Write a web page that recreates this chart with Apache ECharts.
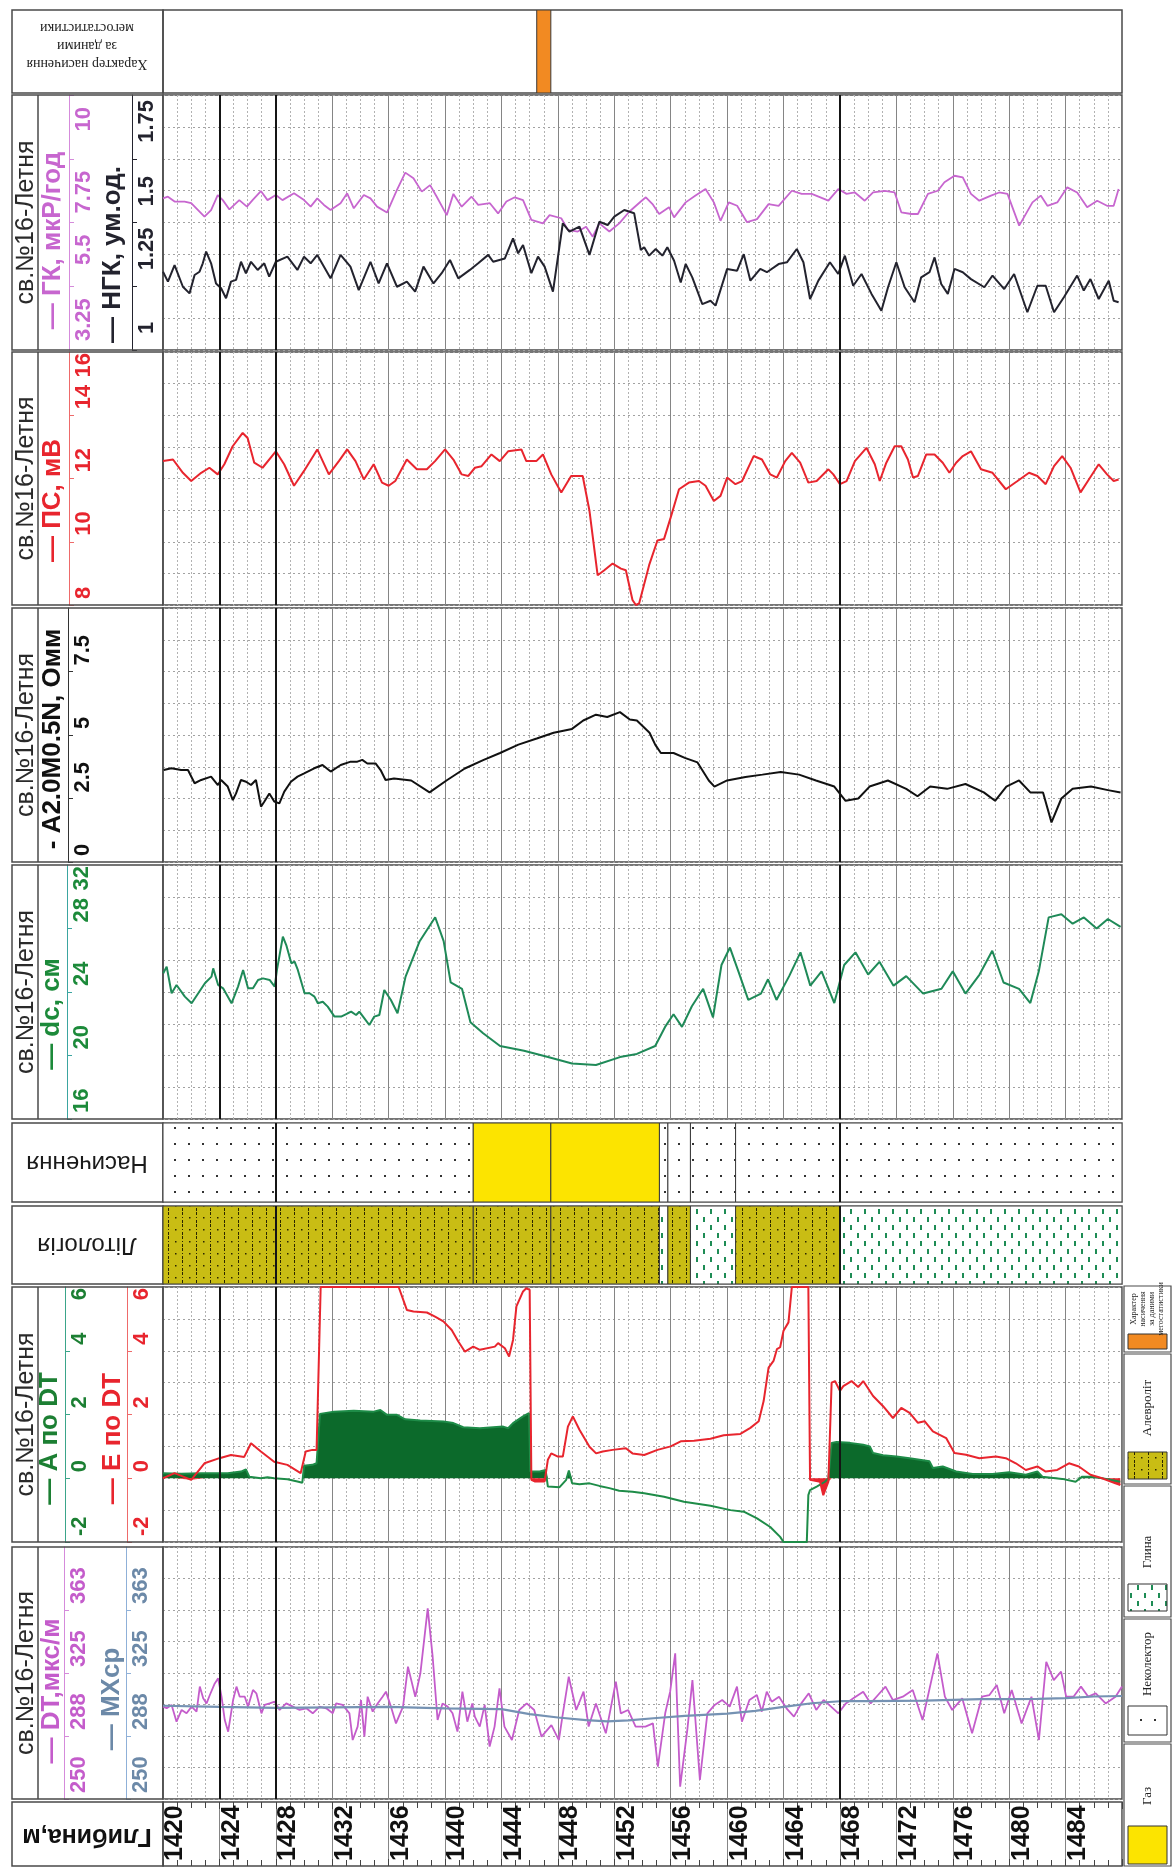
<!DOCTYPE html>
<html>
<head>
<meta charset="utf-8">
<script src="https://cdn.jsdelivr.net/npm/echarts@6/dist/echarts.min.js"></script>
<style>
  html, body { margin: 0; padding: 0; background: #fff; }
  #chart { width: 1172px; height: 1868px; }
</style>
</head>
<body>
<div id="chart"></div>
<script>
// ---------------- well log data, well св.№16-Летня ----------------
const DEPTH_MIN = 1420, DEPTH_MAX = 1488, DEPTH_STEP = 4;
const darkDepthLines = [1424, 1428, 1468];
const zoneDepthLines = [1428, 1468];

// ГК, мкР/год
const gk = [[1420.0,6.35],[1420.35,6.41],[1420.82,6.24],[1421.53,6.24],[1422.0,6.18],[1422.94,5.71],[1423.41,5.94],[1423.88,6.47],[1424.24,6.29],[1424.71,5.96],[1425.41,6.29],[1425.95,6.06],[1426.35,6.29],[1426.94,6.61],[1427.41,6.29],[1428.0,6.47],[1428.47,6.29],[1429.29,6.53],[1430.0,6.29],[1430.47,6.06],[1430.94,6.35],[1431.41,6.12],[1431.88,5.94],[1432.59,6.18],[1433.06,6.53],[1433.53,6.0],[1434.24,6.47],[1434.71,6.35],[1435.18,6.06],[1435.88,5.85],[1436.59,6.65],[1437.18,7.26],[1437.76,7.06],[1438.35,6.59],[1438.94,6.82],[1439.41,6.41],[1440.12,5.76],[1440.59,6.51],[1441.18,6.06],[1441.88,6.41],[1442.35,6.12],[1443.18,6.18],[1443.76,5.82],[1444.35,6.24],[1444.94,6.39],[1445.53,6.29],[1446.12,5.59],[1446.94,5.47],[1447.41,5.76],[1448.24,5.65],[1448.71,5.24],[1449.41,5.18],[1450.0,5.35],[1450.47,5.0],[1450.94,5.47],[1451.65,5.18],[1452.35,5.47],[1453.06,5.88],[1453.88,6.24],[1454.24,6.39],[1454.71,6.15],[1455.18,5.80],[1455.88,6.04],[1456.24,5.68],[1457.06,6.21],[1457.76,6.45],[1458.47,6.68],[1459.06,6.21],[1459.53,5.56],[1460.12,6.21],[1460.71,6.09],[1461.41,5.51],[1462.12,5.62],[1462.94,6.15],[1463.65,6.09],[1464.59,6.62],[1465.29,6.51],[1466.0,6.51],[1467.18,6.27],[1467.88,6.68],[1468.47,6.51],[1469.06,6.56],[1469.76,6.27],[1470.35,6.56],[1471.18,6.62],[1471.88,6.56],[1472.35,5.86],[1473.06,5.80],[1473.53,5.80],[1474.24,6.51],[1474.94,6.62],[1475.41,6.92],[1476.12,7.15],[1476.71,7.09],[1477.29,6.51],[1477.88,6.27],[1478.71,6.45],[1479.29,6.56],[1479.88,6.51],[1480.71,5.39],[1481.65,6.21],[1482.24,6.45],[1482.71,6.09],[1483.41,6.21],[1484.12,6.74],[1484.82,6.56],[1485.53,6.04],[1486.24,6.27],[1486.94,6.09],[1487.41,6.09],[1487.76,6.68]];

// НГК, ум.од.
const ngk = [[1420.0,1.307],[1420.35,1.268],[1420.82,1.333],[1421.41,1.248],[1421.88,1.222],[1422.24,1.294],[1422.59,1.307],[1422.82,1.340],[1423.06,1.386],[1423.41,1.340],[1423.76,1.261],[1424.12,1.242],[1424.47,1.203],[1424.82,1.268],[1425.18,1.275],[1425.53,1.346],[1425.88,1.301],[1426.24,1.346],[1426.71,1.314],[1427.18,1.340],[1427.53,1.288],[1428.0,1.346],[1428.82,1.366],[1429.53,1.314],[1430.0,1.366],[1430.47,1.340],[1430.94,1.373],[1431.88,1.281],[1432.59,1.373],[1433.29,1.327],[1433.88,1.235],[1434.71,1.346],[1435.29,1.261],[1435.88,1.340],[1436.59,1.248],[1437.29,1.268],[1437.88,1.229],[1438.47,1.327],[1439.18,1.261],[1439.76,1.301],[1440.35,1.353],[1440.94,1.281],[1441.76,1.314],[1442.35,1.340],[1443.06,1.373],[1443.41,1.346],[1444.24,1.359],[1444.82,1.438],[1445.18,1.379],[1445.53,1.412],[1446.12,1.301],[1446.59,1.366],[1447.06,1.327],[1447.65,1.229],[1448.35,1.497],[1448.82,1.464],[1449.53,1.484],[1450.24,1.373],[1450.94,1.503],[1451.53,1.490],[1452.0,1.523],[1452.71,1.549],[1453.41,1.536],[1453.88,1.392],[1454.12,1.403],[1454.47,1.370],[1454.94,1.396],[1455.41,1.370],[1455.76,1.403],[1456.24,1.350],[1456.71,1.265],[1457.06,1.337],[1457.53,1.285],[1458.24,1.180],[1458.82,1.193],[1459.18,1.174],[1460.0,1.318],[1460.71,1.311],[1461.18,1.376],[1461.65,1.272],[1462.35,1.318],[1462.82,1.305],[1463.65,1.337],[1464.24,1.344],[1464.94,1.396],[1465.41,1.344],[1465.88,1.200],[1466.47,1.272],[1467.29,1.344],[1467.88,1.298],[1468.35,1.370],[1468.94,1.252],[1469.53,1.298],[1470.24,1.220],[1470.94,1.154],[1471.41,1.246],[1472.0,1.344],[1472.59,1.246],[1473.29,1.187],[1473.76,1.285],[1474.35,1.305],[1474.71,1.363],[1475.18,1.259],[1475.65,1.220],[1476.12,1.318],[1476.71,1.305],[1477.29,1.278],[1478.24,1.246],[1478.82,1.292],[1479.65,1.239],[1480.35,1.298],[1481.29,1.148],[1482.0,1.252],[1482.59,1.252],[1483.18,1.148],[1483.88,1.207],[1484.82,1.292],[1485.29,1.233],[1485.76,1.278],[1486.35,1.200],[1487.06,1.272],[1487.41,1.193],[1487.76,1.187]];

// ПС, мВ
const ps = [[1420.0,12.55],[1420.71,12.60],[1421.41,12.18],[1422.0,11.92],[1422.71,12.18],[1423.29,12.34],[1423.88,12.13],[1424.35,12.45],[1424.94,13.02],[1425.65,13.44],[1426.0,13.28],[1426.47,12.50],[1427.06,12.34],[1428.0,12.86],[1428.59,12.45],[1429.29,11.77],[1430.0,12.24],[1430.94,12.92],[1431.76,12.13],[1432.47,12.55],[1433.06,12.92],[1433.65,12.55],[1434.24,11.97],[1434.94,12.45],[1435.53,11.87],[1436.0,11.77],[1436.47,11.92],[1437.29,12.60],[1438.0,12.29],[1438.71,12.29],[1439.29,12.55],[1440.0,12.92],[1440.59,12.60],[1441.18,12.13],[1441.65,12.08],[1442.12,12.34],[1442.59,12.39],[1443.29,12.76],[1443.88,12.55],[1444.47,12.86],[1445.41,12.92],[1445.76,12.55],[1446.47,12.55],[1446.94,12.76],[1447.53,12.13],[1448.24,11.56],[1448.94,12.08],[1449.76,12.08],[1450.24,10.98],[1450.82,8.94],[1451.29,9.10],[1451.88,9.31],[1452.47,9.15],[1452.82,9.10],[1453.29,8.16],[1453.53,8.0],[1453.76,8.05],[1454.47,9.26],[1455.06,10.04],[1455.53,10.09],[1456.0,10.77],[1456.59,11.66],[1457.29,11.87],[1458.0,11.92],[1458.47,11.77],[1459.06,11.29],[1459.53,11.45],[1460.0,12.03],[1460.59,11.82],[1461.06,11.92],[1461.88,12.71],[1462.47,12.60],[1463.06,12.13],[1463.53,12.03],[1464.12,12.55],[1464.59,12.81],[1465.18,12.50],[1465.76,11.87],[1466.35,11.92],[1467.18,12.29],[1467.53,12.13],[1468.0,11.82],[1468.47,11.92],[1469.06,12.55],[1469.88,12.97],[1470.47,12.45],[1470.82,11.92],[1471.29,12.50],[1471.88,13.02],[1472.35,13.02],[1472.82,12.60],[1473.18,12.03],[1473.53,12.08],[1474.12,12.76],[1474.71,12.76],[1475.29,12.50],[1475.76,12.18],[1476.24,12.50],[1476.71,12.71],[1477.29,12.86],[1478.0,12.29],[1478.82,12.18],[1479.76,11.66],[1480.59,11.92],[1481.41,12.18],[1482.0,12.08],[1482.59,11.82],[1483.18,12.39],[1483.76,12.71],[1484.35,12.34],[1485.06,11.56],[1485.65,11.97],[1486.35,12.45],[1486.94,12.13],[1487.41,11.92],[1487.76,11.97]];

// A2.0M0.5N, Омм
const res = [[1420.05,3.62],[1420.59,3.69],[1421.29,3.62],[1421.77,3.62],[1422.24,3.10],[1422.71,3.23],[1423.41,3.36],[1423.89,3.03],[1424.12,3.23],[1424.59,2.97],[1424.95,2.44],[1425.18,2.70],[1425.53,3.23],[1425.89,3.16],[1426.24,3.03],[1426.59,3.23],[1426.95,2.18],[1427.19,2.38],[1427.54,2.70],[1427.89,2.38],[1428.25,2.31],[1428.60,2.77],[1429.07,3.16],[1429.54,3.36],[1430.01,3.49],[1430.72,3.69],[1431.31,3.82],[1431.89,3.56],[1432.60,3.82],[1433.31,3.95],[1433.78,3.95],[1434.13,4.02],[1434.49,3.88],[1435.07,3.88],[1435.43,3.62],[1435.78,3.23],[1436.38,3.29],[1437.6,3.21],[1438.9,2.74],[1440.1,3.21],[1441.4,3.68],[1442.7,4.01],[1443.9,4.29],[1445.2,4.62],[1446.5,4.86],[1447.7,5.09],[1449.0,5.24],[1449.8,5.57],[1450.7,5.80],[1451.5,5.71],[1452.4,5.90],[1453.1,5.61],[1453.6,5.57],[1454.5,5.09],[1454.9,4.62],[1455.3,4.29],[1456.2,4.29],[1457.0,4.10],[1457.9,3.92],[1458.7,3.21],[1459.1,2.97],[1460.0,3.21],[1461.3,3.35],[1462.5,3.44],[1463.8,3.54],[1465.1,3.44],[1466.3,3.21],[1467.6,2.97],[1468.4,2.41],[1469.3,2.50],[1470.1,2.97],[1471.4,3.21],[1472.7,2.88],[1473.5,2.59],[1474.4,2.97],[1475.6,2.88],[1476.9,3.07],[1478.2,2.74],[1479.0,2.41],[1479.8,2.97],[1480.7,3.21],[1481.5,2.74],[1482.4,2.74],[1483.0,1.56],[1483.7,2.50],[1484.5,2.88],[1485.8,2.97],[1487.0,2.83],[1487.9,2.74]];

// dc, см
const dc = [[1420.02,25.18],[1420.26,25.60],[1420.61,23.92],[1420.96,24.44],[1421.55,23.71],[1422.03,23.29],[1422.50,23.92],[1422.97,24.55],[1423.44,24.97],[1423.56,25.49],[1423.91,24.44],[1424.26,24.23],[1424.86,23.29],[1425.32,24.34],[1425.68,25.39],[1426.03,24.23],[1426.38,24.23],[1426.74,24.76],[1427.09,24.86],[1427.56,24.76],[1427.92,24.34],[1428.08,25.39],[1428.50,27.49],[1428.74,26.96],[1429.10,25.81],[1429.33,25.91],[1429.56,25.39],[1430.04,23.92],[1430.39,23.92],[1430.74,23.71],[1430.98,23.29],[1431.33,23.39],[1431.68,23.08],[1432.16,22.45],[1432.63,22.45],[1433.10,22.66],[1433.34,22.76],[1433.69,22.55],[1433.92,22.76],[1434.28,22.34],[1434.63,21.92],[1434.98,22.45],[1435.34,22.55],[1435.69,24.13],[1436.16,23.50],[1436.63,22.66],[1437.2,24.97],[1438.2,27.2],[1439.3,28.71],[1439.9,27.2],[1440.4,24.6],[1441.2,24.2],[1441.8,22.1],[1442.7,21.4],[1443.9,20.6],[1445.6,20.3],[1447.3,19.9],[1449.0,19.5],[1450.7,19.4],[1452.4,19.9],[1453.6,20.1],[1454.9,20.6],[1455.6,21.8],[1456.2,22.6],[1456.8,21.8],[1457.5,23.1],[1458.3,24.2],[1459.0,22.4],[1459.6,25.7],[1460.2,26.8],[1460.8,25.3],[1461.5,23.5],[1462.4,23.9],[1462.9,24.8],[1463.5,23.5],[1464.4,25.0],[1465.2,26.5],[1465.9,24.4],[1466.7,25.3],[1467.6,23.3],[1468.3,25.7],[1469.1,26.5],[1470.0,25.1],[1470.8,25.9],[1471.8,24.4],[1472.7,25.0],[1473.9,23.9],[1475.2,24.2],[1476.0,25.3],[1476.9,23.9],[1477.9,25.1],[1478.8,26.6],[1479.6,24.6],[1480.7,24.2],[1481.5,23.3],[1482.1,25.3],[1482.8,28.7],[1483.7,28.9],[1484.5,28.3],[1485.3,28.7],[1486.2,28.0],[1487.0,28.6],[1487.9,28.1]];

// A по DT
const aDt = [[1420.0,0.16],[1421.29,0.14],[1422.71,0.16],[1424.59,0.16],[1425.53,0.21],[1425.88,0.28],[1426.12,0.05],[1426.94,0.0],[1427.41,0.03],[1427.88,0.0],[1428.82,-0.03],[1429.53,-0.10],[1429.88,-0.14],[1430.0,0.39],[1430.59,0.42],[1430.89,0.47],[1431.13,2.02],[1432.12,2.09],[1433.53,2.12],[1434.94,2.09],[1435.41,2.14],[1435.88,1.99],[1436.59,1.99],[1437.18,1.85],[1438.24,1.81],[1439.88,1.78],[1440.59,1.73],[1441.29,1.60],[1442.47,1.57],[1443.41,1.60],[1444.12,1.62],[1444.47,1.57],[1444.82,1.73],[1445.53,1.94],[1445.95,2.04],[1446.05,0.21],[1446.71,0.21],[1447.13,0.26],[1447.29,-0.26],[1448.12,-0.28],[1448.59,-0.05],[1448.78,0.24],[1449.01,-0.16],[1449.53,-0.19],[1450.24,-0.16],[1450.94,-0.24],[1451.65,-0.31],[1452.35,-0.39],[1453.29,-0.42],[1454.12,-0.47],[1455.53,-0.58],[1456.94,-0.74],[1458.82,-0.86],[1460.24,-1.0],[1461.18,-1.05],[1462.12,-1.26],[1463.06,-1.53],[1463.76,-1.84],[1464.0,-2.0],[1465.65,-2.0],[1465.76,-0.53],[1465.88,-0.37],[1466.35,-0.26],[1466.94,-0.11],[1467.18,0.0],[1467.41,1.11],[1467.76,1.14],[1468.71,1.11],[1469.65,1.05],[1470.12,1.0],[1470.35,0.79],[1471.06,0.72],[1472.0,0.68],[1472.94,0.63],[1474.35,0.53],[1474.59,0.32],[1475.29,0.37],[1476.24,0.21],[1477.41,0.13],[1478.82,0.13],[1480.0,0.19],[1481.18,0.11],[1482.0,0.21],[1482.35,0.05],[1483.76,-0.02],[1484.71,-0.11],[1485.18,0.05],[1485.88,0.05],[1486.59,0.0],[1487.88,-0.11]];

// E по DT
const eDt = [[1420.0,0.0],[1420.82,0.16],[1422.0,-0.05],[1422.94,0.47],[1424.0,0.63],[1424.82,0.73],[1425.76,0.67],[1426.24,1.10],[1426.94,0.84],[1427.88,0.52],[1428.82,0.42],[1429.76,0.16],[1430.12,0.84],[1430.59,0.89],[1430.89,0.89],[1431.18,6.0],[1436.71,6.0],[1437.29,5.28],[1437.76,5.23],[1438.71,5.20],[1439.29,5.07],[1439.88,4.92],[1440.47,4.65],[1440.94,4.29],[1441.41,3.97],[1442.0,4.13],[1442.47,4.03],[1443.53,4.13],[1443.76,4.24],[1444.24,4.08],[1444.54,3.82],[1444.82,4.34],[1445.06,5.39],[1445.53,5.86],[1445.76,5.96],[1446.0,5.91],[1446.12,-0.05],[1446.35,-0.10],[1447.06,-0.10],[1447.29,0.58],[1447.53,0.78],[1448.0,0.68],[1448.35,0.68],[1448.71,1.62],[1449.06,1.94],[1449.53,1.52],[1450.24,0.99],[1450.71,0.78],[1451.18,0.84],[1451.88,0.89],[1452.82,0.94],[1453.29,0.78],[1454.12,0.73],[1455.06,0.89],[1456.0,1.0],[1456.71,1.16],[1457.65,1.18],[1458.82,1.24],[1459.76,1.35],[1460.94,1.39],[1461.65,1.58],[1462.24,1.79],[1462.59,2.42],[1462.94,3.47],[1463.29,3.68],[1463.53,4.05],[1463.76,4.11],[1464.0,4.63],[1464.35,4.89],[1464.59,6.0],[1465.76,6.0],[1465.88,-0.05],[1466.59,-0.11],[1466.82,-0.53],[1467.18,-0.11],[1467.41,3.0],[1467.65,3.05],[1468.0,2.74],[1468.24,2.89],[1468.82,3.05],[1469.29,2.86],[1469.65,3.05],[1470.35,2.58],[1471.06,2.26],[1471.76,1.89],[1472.35,2.21],[1472.94,2.05],[1473.53,1.74],[1474.0,1.79],[1474.59,1.47],[1475.53,1.26],[1476.12,0.79],[1476.94,0.74],[1477.88,0.63],[1479.06,0.68],[1479.76,0.63],[1480.47,0.47],[1481.18,0.26],[1482.0,0.37],[1482.59,0.21],[1483.41,0.26],[1484.24,0.47],[1484.94,0.37],[1485.76,0.11],[1486.59,0.0],[1487.53,-0.16],[1487.88,-0.21]];

// DT, мкс/м
const dt = [[1420.0,305.0],[1420.26,304.0],[1420.61,306.0],[1420.96,296.0],[1421.32,303.0],[1421.67,301.0],[1422.03,305.0],[1422.38,302.0],[1422.61,316.9],[1422.85,309.9],[1423.09,306.9],[1423.32,311.9],[1423.67,318.8],[1423.91,321.8],[1424.15,310.9],[1424.38,297.0],[1424.62,290.1],[1424.97,308.9],[1425.21,316.9],[1425.44,310.9],[1425.80,310.9],[1426.03,305.0],[1426.38,314.9],[1426.62,312.9],[1426.98,301.0],[1427.21,306.0],[1427.56,306.9],[1427.92,307.9],[1428.27,303.0],[1428.74,306.9],[1429.21,305.0],[1429.68,303.0],[1430.16,304.0],[1430.62,301.0],[1431.10,305.0],[1431.57,304.0],[1432.04,301.0],[1432.28,306.9],[1432.74,306.0],[1433.22,301.0],[1433.45,285.1],[1433.80,293.1],[1434.04,308.9],[1434.28,287.1],[1434.51,310.9],[1434.87,302.0],[1435.22,306.9],[1435.57,310.9],[1435.81,313.9],[1436.16,305.0],[1436.52,295.0],[1437.02,305.0],[1437.37,328.8],[1437.89,310.9],[1438.25,324.8],[1438.77,363.5],[1439.12,334.7],[1439.47,297.0],[1439.82,306.9],[1440.18,305.0],[1440.53,301.0],[1440.88,290.1],[1441.23,313.9],[1441.58,296.0],[1441.93,306.9],[1442.11,299.0],[1442.46,293.1],[1442.81,306.0],[1443.16,281.2],[1443.51,293.1],[1443.86,315.9],[1444.21,293.1],[1444.74,285.1],[1445.26,303.0],[1445.79,306.9],[1446.32,303.0],[1446.84,287.1],[1447.54,294.0],[1448.07,285.1],[1448.32,299.0],[1448.77,322.8],[1449.30,303.0],[1449.82,313.9],[1450.18,293.1],[1450.70,306.9],[1451.40,289.1],[1452.11,319.8],[1452.46,301.0],[1452.98,303.0],[1453.51,293.1],[1454.21,293.1],[1454.74,295.0],[1455.09,269.2],[1455.61,301.0],[1455.96,313.9],[1456.32,336.7],[1456.67,257.3],[1457.19,292.1],[1457.54,320.8],[1458.07,261.3],[1458.60,301.0],[1459.12,306.0],[1459.65,308.9],[1460.18,305.0],[1460.70,316.9],[1461.05,296.0],[1461.58,308.9],[1462.11,311.9],[1462.46,302.0],[1462.81,313.9],[1463.16,307.9],[1463.68,310.9],[1464.21,304.0],[1464.74,299.0],[1465.26,306.9],[1465.79,312.9],[1466.32,303.0],[1466.84,308.9],[1467.37,305.0],[1467.89,301.0],[1468.42,306.9],[1468.95,309.9],[1469.65,313.9],[1470.18,306.9],[1470.70,311.9],[1471.23,316.9],[1471.75,308.9],[1472.46,310.9],[1473.16,314.9],[1473.86,297.0],[1474.91,336.7],[1475.44,310.9],[1475.96,303.0],[1476.67,309.9],[1477.37,289.1],[1478.07,310.9],[1478.60,311.9],[1479.12,317.9],[1479.65,301.0],[1480.18,314.9],[1480.88,295.0],[1481.58,310.9],[1482.11,285.1],[1482.63,331.7],[1483.16,320.8],[1483.68,325.8],[1484.04,310.9],[1484.56,310.9],[1485.09,316.9],[1485.61,310.9],[1486.14,312.9],[1486.84,306.9],[1487.54,310.9],[1488.0,316.9]];

// MXcp
const mxcp = [[1420,305.5],[1424,304.8],[1428,304.2],[1432,304.5],[1436,304.8],[1440,304.0],[1444,303.5],[1445,302.0],[1446,300.5],[1448,298.5],[1450,297.0],[1451.5,296.2],[1453,296.8],[1455,298.2],[1457,299.5],[1460,300.8],[1462,302.5],[1464,304.8],[1466,307.0],[1468,308.2],[1470,308.2],[1472,308.4],[1474,308.6],[1476,309.0],[1478,309.4],[1480,309.5],[1482,309.6],[1484,310.0],[1486,311.0],[1488,311.3]];

// saturation codes: 0 = Неколектор, 1 = Газ
const saturation = [[1420,1428,0],[1428,1442,0],[1442,1447.5,1],[1447.5,1455.2,1],[1455.2,1455.8,0],[1455.8,1457.4,0],[1457.4,1460.6,0],[1460.6,1468,0],[1468,1488,0]];
// lithology codes: 2 = Алевроліт, 3 = Глина
const lithology = [[1420,1428,2],[1428,1442,2],[1442,1447.5,2],[1447.5,1455.2,2],[1455.2,1455.8,3],[1455.8,1457.4,2],[1457.4,1460.6,3],[1460.6,1468,2],[1468,1488,3]];
// Характер насичення за даними мегостатистики
const statSaturation = [[1446.5,1447.5,4]];

// track scales: [min, max]
const scaleGK = [1, 10], scaleNGK = [1, 2], scalePS = [8, 16], scaleRes = [0, 10];
const scaleDc = [16, 32], scaleAE = [-2, 6], scaleDT = [250, 400];

// ---------------- layout & styling ----------------
const FONT = '"Liberation Sans", Arial, Helvetica, sans-serif';
const SERIF = '"Liberation Serif", "DejaVu Serif", serif';
const PLOT_LEFT = 163, PLOT_RIGHT = 1122;
const HEAD_LEFT = 12, NAME_COL = 38;

const C = {
  gk: '#C766CF', gkAxis: '#D58BDB', ngk: '#23232e', ps: '#E8252E', psAxis: '#EE6A6A',
  res: '#111111', dc: '#1F8A58', dcLabel: '#1C8A3A', dcAxis: '#3BA5A0',
  a: '#1E8C48', aFill: '#0C6A2B', aLabel: '#1C7F33', aAxis: '#3BA58A',
  e: '#E8252E', eAxis: '#EE6A6A', dt: '#C45CCB', dtAxis: '#D58BDB', mx: '#7592B3', mxLabel: '#6C89A8', mxAxis: '#8FB0D8',
  orange: '#F28A22', gas: '#FCE400', grid: '#858585', minor: '#b2b2b2', frame: '#4a4a4a'
};

const panelOrder = ['stat', 'gk', 'ps', 'res', 'dc', 'sat', 'lith', 'ae', 'dt', 'depth'];
const panels = {
  stat: { top: 10, h: 83 }, gk: { top: 95, h: 255 }, ps: { top: 352, h: 253 }, res: { top: 608, h: 254 },
  dc: { top: 865, h: 254 }, sat: { top: 1123, h: 79 }, lith: { top: 1206, h: 78 }, ae: { top: 1287, h: 255 },
  dt: { top: 1547, h: 252 }, depth: { top: 1802, h: 64 }
};
const curvePanels = new Set(['gk', 'ps', 'res', 'dc', 'ae', 'dt']);
const gi = k => panelOrder.indexOf(k);

// fill patterns
function makePattern(w, h, draw) {
  const c = document.createElement('canvas');
  c.width = w; c.height = h;
  draw(c.getContext('2d'));
  return { image: c, repeat: 'repeat' };
}
const patNonCollector = makePattern(14, 16, g => {
  g.fillStyle = '#fff'; g.fillRect(0, 0, 14, 16);
  g.fillStyle = '#333'; g.fillRect(6, 7, 2, 2);
});
const patClay = makePattern(14, 16, g => {
  g.fillStyle = '#fff'; g.fillRect(0, 0, 14, 16);
  g.fillStyle = '#1E8C55'; g.fillRect(3, 1, 2, 5); g.fillRect(10, 9, 2, 5);
});
const patAleurolite = makePattern(14, 12, g => {
  g.fillStyle = '#C9BD14'; g.fillRect(0, 0, 14, 12);
  g.fillStyle = '#2a2600';
  g.fillRect(0, 0, 1, 3); g.fillRect(0, 5, 1, 1); g.fillRect(0, 8, 1, 3);
  g.fillRect(7, 5, 1.5, 1.5);
});
const fills = [patNonCollector, C.gas, patAleurolite, patClay, C.orange];

// ---------------- axes ----------------
const xAxis = panelOrder.map((k, i) => {
  const curve = curvePanels.has(k), depth = k === 'depth';
  return {
    gridIndex: i, type: 'value', min: DEPTH_MIN, max: DEPTH_MAX, interval: DEPTH_STEP, position: 'bottom',
    axisLine: { show: false },
    axisTick: depth ? { show: true, inside: true, length: 7, lineStyle: { color: '#444' } } : { show: false },
    minorTick: depth ? { show: true, splitNumber: 4, length: 6, lineStyle: { color: '#444' } } : { show: false, splitNumber: 4 },
    axisLabel: depth ? {
      show: true, inside: true, rotate: 90, align: 'left', verticalAlign: 'top', margin: 5,
      color: '#111', fontFamily: FONT, fontSize: 25, fontWeight: 'bold', showMaxLabel: false, hideOverlap: false,
      formatter: v => String(v)
    } : { show: false },
    splitLine: { show: curve || depth, lineStyle: { color: C.grid, width: 1 } },
    minorSplitLine: { show: curve, lineStyle: { color: C.minor, width: 1, type: [2, 2] } }
  };
});
xAxis.push({
  gridIndex: gi('depth'), type: 'value', min: DEPTH_MIN, max: DEPTH_MAX, interval: DEPTH_STEP, position: 'top',
  axisLine: { show: false }, axisLabel: { show: false }, splitLine: { show: false },
  axisTick: { show: true, inside: true, length: 7, lineStyle: { color: '#444' } },
  minorTick: { show: true, splitNumber: 4, length: 6, lineStyle: { color: '#444' } }
});

const dotted = { color: '#a2a2a2', width: 1, type: [2, 3] };
function scaleAxis(panel, range, axisX, color, axisColor, o = {}) {
  const [min, max] = range;
  return {
    gridIndex: gi(panel), type: 'value', min, max, interval: (max - min) / 4,
    position: 'left', offset: PLOT_LEFT - axisX,
    axisLine: { show: true, onZero: false, lineStyle: { color: axisColor, width: 1 } },
    axisTick: { show: true, inside: true, length: 5, lineStyle: { color: axisColor } },
    axisLabel: {
      show: true, inside: true, rotate: 90, margin: 4, hideOverlap: false,
      align: o.align || 'left', verticalAlign: 'top', padding: o.padding || [0, 0, 0, 6],
      color, fontFamily: FONT, fontSize: 22, fontWeight: 'bold',
      showMinLabel: o.showMin !== false, showMaxLabel: o.showMax === true,
      formatter: o.fmt || (v => String(v))
    },
    splitLine: { show: !!o.grid, lineStyle: dotted },
    minorTick: { show: false, splitNumber: 2 },
    minorSplitLine: { show: !!o.grid, lineStyle: dotted }
  };
}
// label-only axis that prints the scale maximum ending at the top edge
function capAxis(panel, range, axisX, color) {
  const [min, max] = range;
  return {
    gridIndex: gi(panel), type: 'value', min, max, interval: (max - min) / 4,
    position: 'left', offset: PLOT_LEFT - axisX,
    axisLine: { show: false }, axisTick: { show: false }, splitLine: { show: false },
    axisLabel: {
      show: true, inside: true, rotate: 90, margin: 4, hideOverlap: false, align: 'right', verticalAlign: 'top',
      padding: [0, 1, 0, 0], color, fontFamily: FONT, fontSize: 22, fontWeight: 'bold',
      showMinLabel: false, showMaxLabel: true, formatter: v => (v === max ? String(v) : '')
    }
  };
}
const hiddenAxis = panel => ({ gridIndex: gi(panel), type: 'value', min: 0, max: 1, show: false });

const yAxis = [
  hiddenAxis('stat'),                                                                         // 0
  scaleAxis('gk', scaleGK, 69, C.gk, C.gkAxis, { grid: true, align: 'right', padding: [0, 12, 0, 0], showMin: false, showMax: true }), // 1
  scaleAxis('gk', scaleNGK, 132, C.ngk, C.ngk, { padding: [0, 0, 0, 16] }),                 // 2
  scaleAxis('ps', scalePS, 69, C.ps, C.psAxis, { grid: true }),                               // 3
  capAxis('ps', scalePS, 69, C.ps),                                                           // 4
  scaleAxis('res', scaleRes, 68, C.res, '#333', { grid: true }),                              // 5
  scaleAxis('dc', scaleDc, 67, C.dcLabel, C.dcAxis, { grid: true }),                          // 6
  capAxis('dc', scaleDc, 67, C.dcLabel),                                                      // 7
  hiddenAxis('sat'),                                                                          // 8
  hiddenAxis('lith'),                                                                         // 9
  scaleAxis('ae', scaleAE, 65, C.aLabel, C.aAxis, { grid: true }),                            // 10
  capAxis('ae', scaleAE, 65, C.aLabel),                                                       // 11
  scaleAxis('ae', scaleAE, 127, C.e, C.eAxis),                                                // 12
  capAxis('ae', scaleAE, 127, C.e),                                                           // 13
  scaleAxis('dt', scaleDT, 64, C.dt, C.dtAxis, { grid: true, fmt: v => String(Math.round(v)) }),   // 14
  scaleAxis('dt', scaleDT, 126, C.mxLabel, C.mxAxis, { fmt: v => String(Math.round(v)) }),       // 15
  hiddenAxis('depth')                                                                         // 16
];

// ---------------- series ----------------
const darkLines = values => ({
  silent: true, symbol: 'none', animation: false, label: { show: false },
  lineStyle: { color: '#151515', width: 2, type: 'solid' },
  data: values.map(v => ({ xAxis: v }))
});
function curve(panel, yIdx, data, color, width, extra = {}) {
  return Object.assign({
    type: 'line', xAxisIndex: gi(panel), yAxisIndex: yIdx, data, symbol: 'none', silent: true,
    lineStyle: { color, width }, itemStyle: { color }, z: 4
  }, extra);
}
function intervals(panel, yIdx, data) {
  return {
    type: 'custom', xAxisIndex: gi(panel), yAxisIndex: yIdx, data, silent: true, clip: true,
    dimensions: ['from', 'to', 'kind'], encode: { x: [0, 1] },
    renderItem(params, api) {
      const p0 = api.coord([api.value(0), 1]);
      const p1 = api.coord([api.value(1), 0]);
      return {
        type: 'rect',
        shape: { x: p0[0], y: p0[1], width: p1[0] - p0[0], height: p1[1] - p0[1] },
        style: { fill: fills[api.value(2)], stroke: '#3a3a3a', lineWidth: 1 }
      };
    }
  };
}
const frame = (panel, yIdx, lines) => ({
  type: 'line', xAxisIndex: gi(panel), yAxisIndex: yIdx, data: [], silent: true, z: 3, markLine: darkLines(lines)
});

const aPositive = aDt.map(([d, v]) => [d, Math.max(v, 0)]);
const eNegative = eDt.map(([d, v]) => [d, Math.min(v, 0)]);

const series = [
  intervals('stat', 0, statSaturation),
  frame('gk', 1, darkDepthLines),
  curve('gk', 1, gk, C.gk, 1.8),
  curve('gk', 2, ngk, C.ngk, 2),
  frame('ps', 3, darkDepthLines),
  curve('ps', 3, ps, C.ps, 2),
  frame('res', 5, darkDepthLines),
  curve('res', 5, res, C.res, 2),
  frame('dc', 6, darkDepthLines),
  curve('dc', 6, dc, C.dc, 2),
  intervals('sat', 8, saturation),
  frame('sat', 8, zoneDepthLines),
  intervals('lith', 9, lithology),
  frame('lith', 9, zoneDepthLines),
  frame('ae', 10, darkDepthLines),
  curve('ae', 10, aPositive, C.aFill, 0, { areaStyle: { color: C.aFill, opacity: 1 }, z: 3 }),
  curve('ae', 10, eNegative, C.e, 0, { areaStyle: { color: C.e, opacity: 1 }, z: 3 }),
  curve('ae', 10, aDt, C.a, 2),
  curve('ae', 12, eDt, C.e, 2),
  frame('dt', 14, darkDepthLines),
  curve('dt', 14, dt, C.dt, 1.8),
  curve('dt', 15, mxcp, C.mx, 2.2),
  { type: 'line', xAxisIndex: gi('depth'), yAxisIndex: 16, data: [], silent: true }
];

// ---------------- header column & legend ----------------
const g = [];
const rect = (x, y, w, h, extra = {}) => g.push({ type: 'rect', silent: true, z: 1, shape: { x, y, width: w, height: h },
  style: Object.assign({ fill: 'none', stroke: C.frame, lineWidth: 1.5 }, extra) });
const vline = (x, y1, y2, color = C.frame, w = 1.5) => g.push({ type: 'line', silent: true, z: 1,
  shape: { x1: x, y1, x2: x, y2 }, style: { stroke: color, lineWidth: w } });
const text = (t, x, y, rot, style) => g.push({ type: 'text', silent: true, z: 2, x, y, rotation: rot,
  style: Object.assign({ text: t, align: 'center', verticalAlign: 'middle', fill: '#222', font: `24px ${FONT}` }, style) });
const UP = Math.PI / 2, FLIP = Math.PI;

panelOrder.forEach(k => {
  const p = panels[k];
  rect(HEAD_LEFT, p.top, PLOT_LEFT - HEAD_LEFT, p.h);
  if (curvePanels.has(k)) {
    vline(NAME_COL, p.top, p.top + p.h);
    text('св.№16-Летня', 26, p.top + p.h / 2, UP, { font: `25px ${FONT}`, fill: '#2a2a2a' });
  }
});

const nameFont = `bold 26px ${FONT}`;
const nameAt = (panel, t, x, color, dy = 18) => {
  const p = panels[panel];
  text(t, x, p.top + p.h / 2 + dy, UP, { font: nameFont, fill: color });
};
nameAt('gk', '— ГК, мкР/год', 53, C.gk, 18);
nameAt('gk', '— НГК, ум.од.', 113, C.ngk, 32);
nameAt('ps', '— ПС, мВ', 53, C.ps, 22);
nameAt('res', '- A2.0M0.5N, Омм', 53, C.res, 4);
nameAt('dc', '— dc, см', 52, C.dcLabel, 22);
nameAt('ae', '— A по DT', 50, C.aLabel, 24);
nameAt('ae', '— E по DT', 113, C.e, 24);
nameAt('dt', '— DT,мкс/м', 52, C.dt, 18);
nameAt('dt', '— MXcp', 112, C.mxLabel, 26);

text('Характер насичення\nза даними\nмегостатистики', 87, 46, FLIP,
  { font: `14px ${SERIF}`, lineHeight: 18, fill: '#222' });
text('Насичення', 87, panels.sat.top + panels.sat.h / 2, FLIP, { font: `24px ${FONT}`, fill: '#1a1a1a' });
text('Літологія', 87, panels.lith.top + panels.lith.h / 2, FLIP, { font: `24px ${FONT}`, fill: '#1a1a1a' });
text('Глибина,м', 87, panels.depth.top + panels.depth.h / 2 + 2, FLIP, { font: `bold 25px ${FONT}`, fill: '#111' });

// legend column
const LX = 1124, LW = 47;
const legendItems = [
  { label: 'Характер\nнасичення\nза даними\nмегостатистики', y0: 1286, y1: 1352, ty: 1309, sy: 1334, sh: 15, fill: C.orange, font: `8px ${SERIF}`, lh: 9 },
  { label: 'Алевроліт', y0: 1354, y1: 1484, ty: 1408, sy: 1452, sh: 27, fill: patAleurolite, font: `13px ${SERIF}` },
  { label: 'Глина', y0: 1486, y1: 1617, ty: 1552, sy: 1584, sh: 27, fill: patClay, font: `13px ${SERIF}` },
  { label: 'Неколектор', y0: 1619, y1: 1742, ty: 1664, sy: 1706, sh: 29, fill: patNonCollector, font: `13px ${SERIF}` },
  { label: 'Газ', y0: 1744, y1: 1866, ty: 1796, sy: 1826, sh: 38, fill: C.gas, font: `13px ${SERIF}` }
];
legendItems.forEach(it => {
  rect(LX, it.y0, LW, it.y1 - it.y0, { lineWidth: 1.2 });
  text(it.label, LX + LW / 2, it.ty, UP, { font: it.font, lineHeight: it.lh || 15, fill: '#222' });
  rect(LX + 4, it.sy, LW - 8, it.sh, { fill: it.fill, stroke: '#333', lineWidth: 1 });
});

// ---------------- chart ----------------
const chart = echarts.init(document.getElementById('chart'), null, { renderer: 'canvas' });
chart.setOption({
  animation: false,
  backgroundColor: '#ffffff',
  grid: panelOrder.map(k => ({
    left: PLOT_LEFT, width: PLOT_RIGHT - PLOT_LEFT, top: panels[k].top, height: panels[k].h,
    show: true, borderColor: C.frame, borderWidth: 1.5, backgroundColor: '#fff',
    containLabel: false, outerBoundsMode: 'none'
  })),
  xAxis, yAxis, series,
  graphic: { elements: g }
});
</script>
</body>
</html>
